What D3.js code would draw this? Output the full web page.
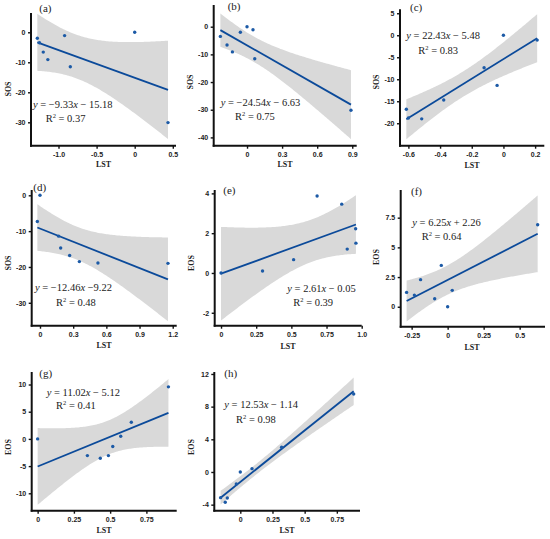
<!DOCTYPE html>
<html><head><meta charset="utf-8">
<script src="https://cdn.jsdelivr.net/npm/d3@7"></script>
<style>
html,body{margin:0;padding:0;background:#fff;}
svg{display:block;font-family:"Liberation Serif","Times New Roman",serif;}
.tick text{font-size:7px;font-weight:bold;fill:#222;}
</style></head><body>
<svg id="chart" width="550" height="539"></svg>
<script>
// ---- data ----
const lstA = [-1.278,-1.25,-1.2,-1.14,-0.92,-0.845,0,0.437];
const sosA = [-2.0,-3.5,-6.6,-9.1,-1.1,-11.5,0,-30.1];
const lstB = [-0.057,-0.228,-0.171,-0.125,0.051,0.066,0,0.889];
const sosB = [-2.0,-3.5,-6.6,-9.1,-1.1,-11.6,0,-30.2];
const lstC = [-0.613,-0.6,-0.516,-0.377,-0.122,-0.04,0,0.213];
const sosC = [-16.8,-18.8,-19.0,-14.7,-7.4,-11.4,0,-1.1];
const lstD = [0,-0.024,0.169,0.187,0.268,0.356,0.524,1.157];
const sosD = [0,-7.3,-11.4,-14.7,-16.8,-18.5,-18.9,-19.0];
const lstE = [0,0.295,0.516,0.683,0.858,0.897,0.957,0.959];
const eosE = [0,0.1,0.67,3.87,3.46,1.2,2.22,1.5];
const lstF = [-0.285,-0.231,-0.188,-0.09,-0.044,0,0.032,0.625];
const eosF = [1.21,0.98,2.28,0.67,3.48,0,1.38,6.91];
const lstG = [0,0.343,0.432,0.488,0.518,0.573,0.646,0.902];
const eosG = [0,-3.07,-3.56,-3.07,-1.41,0.49,3.07,9.57];
const lstH = [-0.153,-0.117,-0.101,-0.031,0,0.091,0.321,0.881];
const eosH = [-3.14,-3.71,-3.18,-1.47,0,0.41,3.02,9.55];

const panelLabels = ["(a)","(b)","(c)","(d)","(e)","(f)","(g)","(h)"];
const yTitles = ["SOS","SOS","SOS","SOS","EOS","EOS","EOS","EOS"];
const slopeText = ["−9.33","−24.54","22.43","−12.46","2.61","6.25","11.02","12.53"];
const interceptText = [" − 15.18"," − 6.63"," − 5.48"," −9.22"," − 0.05"," + 2.26"," − 5.12"," − 1.14"];
const r2Text = ["0.37","0.75","0.83","0.48","0.39","0.64","0.41","0.98"];

const xTicksA=[-1.0,-0.5,0,0.5], xLabA=["-1.0","-0.5","0","0.5"];
const yTicksA=[0,-10,-20,-30], yLabA=["0","-10","-20","-30"];
const xTicksB=[0,0.3,0.6,0.9], xLabB=["0","0.3","0.6","0.9"];
const yTicksB=[0,-10,-20,-30,-40], yLabB=["0","-10","-20","-30","-40"];
const xTicksC=[-0.6,-0.4,-0.2,0,0.2], xLabC=["-0.6","-0.4","-0.2","0","0.2"];
const yTicksC=[5,0,-5,-10,-15,-20], yLabC=["5","0","-5","-10","-15","-20"];
const xTicksD=[0,0.3,0.6,0.9,1.2], xLabD=["0","0.3","0.6","0.9","1.2"];
const yTicksD=[0,-10,-20,-30], yLabD=["0","-10","-20","-30"];
const xTicksE=[0,0.25,0.5,0.75,1.0], xLabE=["0","0.25","0.5","0.75","1.0"];
const yTicksE=[4,2,0,-2], yLabE=["4","2","0","-2"];
const xTicksF=[-0.25,0,0.25,0.5], xLabF=["-0.25","0","0.25","0.5"];
const yTicksF=[7.5,5,2.5,0], yLabF=["7.5","5","2.5","0"];
const xTicksG=[0,0.25,0.5,0.75], xLabG=["0","0.25","0.5","0.75"];
const yTicksG=[10,5,0,-5,-10], yLabG=["10","5","0","-5","-10"];
const xTicksH=[0,0.25,0.5,0.75], xLabH=["0","0.25","0.5","0.75"];
const yTicksH=[12,8,4,0,-4], yLabH=["12","8","4","0","-4"];

// ---- layout (positions only) ----
const layout = [
 {l:31,   r:176,   t:13,  b:145.7, xd:[-1.361,0.542], yd:[-37.8,6.43], lab:[39.3,11.7], eq:[33,108], r2:[45.7,121.7], yt:[8.5,89], xt:[103.5,167]},
 {l:213.7,r:356.7, t:5,   b:145.7, xd:[-0.285,0.938], yd:[-43.0,7.84], lab:[227.7,9.5], eq:[220.7,106], r2:[235,120], yt:[190.5,82], xt:[285,167]},
 {l:400,  r:544.3, t:9.3, b:145.7, xd:[-0.653,0.258], yd:[-25.1,5.9],  lab:[410,11], eq:[406.3,39.3], r2:[418.3,54], yt:[376,82], xt:[472,167.5]},
 {l:31.7, r:176.7, t:190, b:325.7, xd:[-0.075,1.236], yd:[-36.4,1.48], lab:[33.3,190.5], eq:[35,291.3], r2:[56,306], yt:[8.5,263], xt:[104,348]},
 {l:214.7,r:361.7, t:190, b:325.7, xd:[-0.045,1.0],   yd:[-2.65,4.17], lab:[223.3,194.3], eq:[287.3,292.3], r2:[293.3,306.3], yt:[191.5,263], xt:[288,348.5]},
 {l:400.7,r:545,   t:190, b:326.7, xd:[-0.326,0.676], yd:[-1.68,9.83], lab:[411,195], eq:[412.3,225.7], r2:[421.7,240.3], yt:[376.5,257], xt:[472,349.5]},
 {l:31.7, r:176.7, t:372, b:510.7, xd:[-0.041,0.959], yd:[-13.2,12.3], lab:[39.3,377.3], eq:[46.7,395.7], r2:[56,409], yt:[8.5,447], xt:[104,532.5]},
 {l:214.3,r:360,   t:372, b:510.7, xd:[-0.202,0.930], yd:[-4.74,12.24],lab:[224.3,376.5], eq:[224.3,408.3], r2:[236,423], yt:[191.5,447], xt:[287,532.5]}
];

const xs=[lstA,lstB,lstC,lstD,lstE,lstF,lstG,lstH];
const ys=[sosA,sosB,sosC,sosD,eosE,eosF,eosG,eosH];
const xT=[xTicksA,xTicksB,xTicksC,xTicksD,xTicksE,xTicksF,xTicksG,xTicksH];
const xL=[xLabA,xLabB,xLabC,xLabD,xLabE,xLabF,xLabG,xLabH];
const yT=[yTicksA,yTicksB,yTicksC,yTicksD,yTicksE,yTicksF,yTicksG,yTicksH];
const yL=[yLabA,yLabB,yLabC,yLabD,yLabE,yLabF,yLabG,yLabH];

const T95 = 2.447; // t quantile, df = 6
const svg = d3.select("#chart");
const lineColor = "#0b4a9a", dotColor = "#1c5aa6", bandColor = "#d9d9d9";

layout.forEach((L,i)=>{
  const X = xs[i], Y = ys[i], n = X.length;
  const x = d3.scaleLinear().domain(L.xd).range([L.l,L.r]);
  const y = d3.scaleLinear().domain(L.yd).range([L.b,L.t]);
  const mx = d3.mean(X), my = d3.mean(Y);
  let sxx=0, sxy=0;
  X.forEach((v,k)=>{sxx+=(v-mx)*(v-mx); sxy+=(v-mx)*(Y[k]-my);});
  const slope = sxy/sxx, icpt = my - slope*mx;
  let sse=0; X.forEach((v,k)=>{const e=Y[k]-(icpt+slope*v); sse+=e*e;});
  const s = Math.sqrt(sse/(n-2));
  const [x0,x1] = d3.extent(X);
  const grid = d3.range(0,101).map(j=>x0+(x1-x0)*j/100);
  const band = grid.map(g=>{
    const f = icpt+slope*g;
    const h = T95*s*Math.sqrt(1/n + (g-mx)*(g-mx)/sxx);
    return {g, lo:f-h, hi:f+h};
  });
  const g = svg.append("g");
  g.append("path").datum(band)
    .attr("d", d3.area().x(d=>x(d.g)).y0(d=>y(d.lo)).y1(d=>y(d.hi)))
    .attr("fill", bandColor);
  g.append("line")
    .attr("x1", x(x0)).attr("y1", y(icpt+slope*x0))
    .attr("x2", x(x1)).attr("y2", y(icpt+slope*x1))
    .attr("stroke", lineColor).attr("stroke-width", 1.8);
  g.selectAll("circle.pt").data(X.map((v,k)=>[v,Y[k]])).join("circle")
    .attr("class","pt").attr("cx",d=>x(d[0])).attr("cy",d=>y(d[1]))
    .attr("r",1.7).attr("fill",dotColor);

  const xa = g.append("g").attr("transform",`translate(0,${L.b})`)
    .call(d3.axisBottom(x).tickValues(xT[i]).tickFormat((d,k)=>xL[i][k]).tickSize(3).tickSizeOuter(0).tickPadding(3));
  const ya = g.append("g").attr("transform",`translate(${L.l},0)`)
    .call(d3.axisLeft(y).tickValues(yT[i]).tickFormat((d,k)=>yL[i][k]).tickSize(3).tickSizeOuter(0).tickPadding(2.5));
  [xa,ya].forEach(a=>{
    a.select(".domain").attr("stroke","#111").attr("stroke-width",2);
    a.selectAll(".tick line").attr("stroke","#111").attr("stroke-width",1.4);
    a.selectAll(".tick text").attr("font-family",null).attr("font-size",null);
  });
  xa.select(".domain").attr("d",`M${L.l-1},0H${L.r}`);
  ya.select(".domain").attr("d",`M0,${L.b+1}V${L.t}`);

  g.append("text").attr("x",L.lab[0]).attr("y",L.lab[1])
    .attr("font-size",11).attr("fill","#222").text(panelLabels[i]);
  const eq = g.append("text").attr("x",L.eq[0]).attr("y",L.eq[1])
    .attr("font-size",10.5).attr("fill","#222");
  eq.append("tspan").attr("font-style","italic").text("y");
  eq.append("tspan").text(" = "+slopeText[i]);
  eq.append("tspan").attr("font-style","italic").text("x");
  eq.append("tspan").text(interceptText[i]);
  const r2 = g.append("text").attr("x",L.r2[0]).attr("y",L.r2[1])
    .attr("font-size",10.5).attr("fill","#222");
  r2.append("tspan").text("R");
  r2.append("tspan").attr("font-size",6.5).attr("dy",-4).text("2");
  r2.append("tspan").attr("dy",4).text(" = "+r2Text[i]);

  g.append("text").attr("x",L.xt[0]).attr("y",L.xt[1])
    .attr("text-anchor","middle").attr("font-size",8).attr("font-weight","bold")
    .attr("fill","#222").text("LST");
  g.append("text").attr("transform",`translate(${L.yt[0]},${L.yt[1]}) rotate(-90)`)
    .attr("text-anchor","middle").attr("dominant-baseline","central")
    .attr("font-size",8).attr("font-weight","bold").attr("fill","#222").text(yTitles[i]);
});
</script>
</body></html>
